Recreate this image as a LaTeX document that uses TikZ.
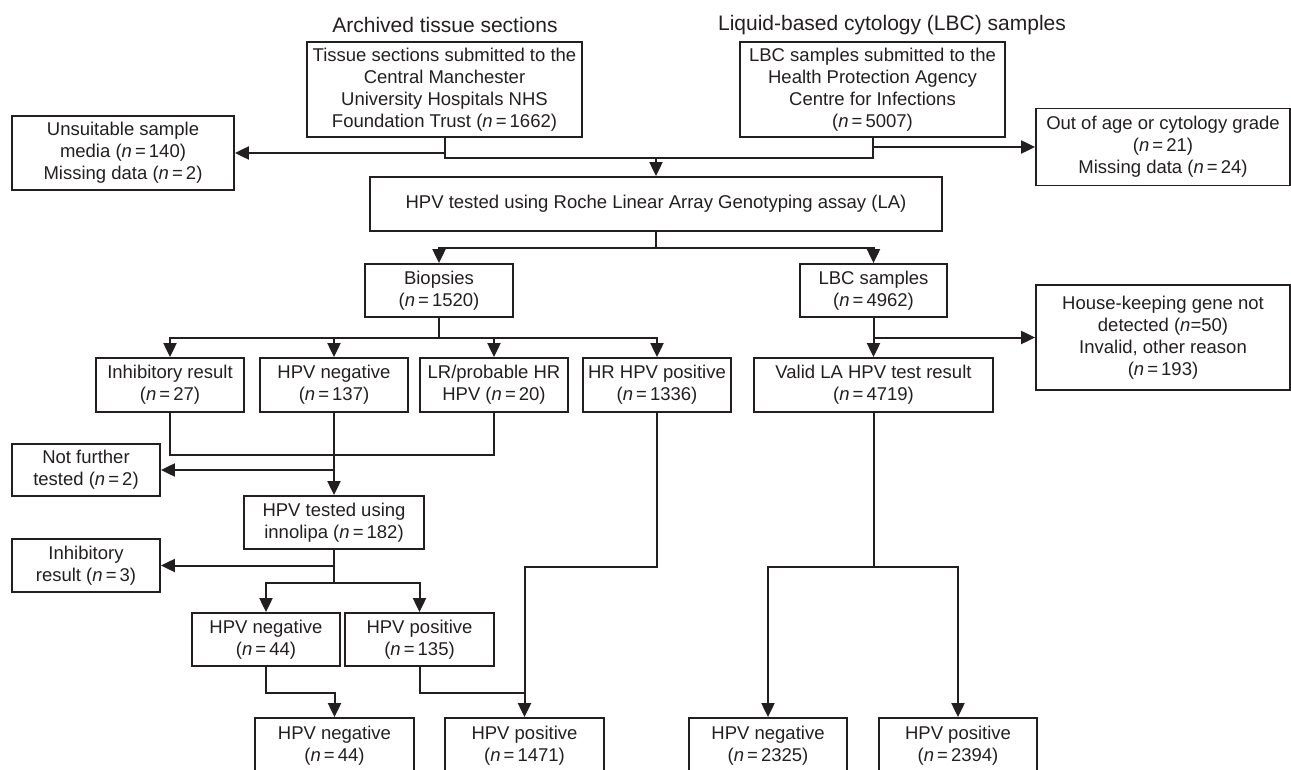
\documentclass[tikz,border=0pt]{standalone}
\usepackage{fontspec}
\setmainfont{Liberation Sans}
\usetikzlibrary{arrows.meta}
\definecolor{ink}{HTML}{231F20}
\newcommand{\nEq}{\textit{n}\,=\,}
\begin{document}
\begin{tikzpicture}[x=1pt,y=-1pt,
  box/.style={draw=ink, line width=1.8pt, inner sep=0pt, align=center, text=ink,
    font=\fontsize{18.5}{22}\selectfont},
  wh/.style n args={2}{minimum width=#1pt, minimum height=#2pt},
  ttl/.style={text=ink, inner sep=0pt, font=\fontsize{21}{25}\selectfont},
  conn/.style={draw=ink, line width=2pt},
  arr/.style={conn, -{Triangle[length=14pt,width=13pt]}},
]
\useasboundingbox (0,0) rectangle (1291,770);
\clip (0,0) rectangle (1291,770);

% titles
\node[ttl] (t1) at (445,25) {Archived tissue sections};
\node[ttl] (t2) at (892,25) {Liquid-based cytology (LBC) samples};

% top boxes
\node[box, wh={275}{95}] (tissue) at (444.5,89.5)
  {Tissue sections submitted to the\\Central Manchester\\University Hospitals NHS\\Foundation Trust (\nEq1662)};
\node[box, wh={265}{95}] (lbc) at (872.5,89.5)
  {LBC samples submitted to the\\Health Protection Agency\\Centre for Infections\\(\nEq5007)};
\node[box, wh={222}{74}] (unsuit) at (123,153)
  {Unsuitable sample\\media (\nEq140)\\Missing data (\nEq2)};
\node[box, wh={254}{77}] (outage) at (1163,147)
  {Out of age or cytology grade\\(\nEq21)\\Missing data (\nEq24)};
\node[box, wh={572}{54}] (hpvla) at (656,204)
  {HPV tested using Roche Linear Array Genotyping assay (LA)};

% second level
\node[box, wh={148}{53}] (biop) at (439,290.5) {Biopsies\\(\nEq1520)};
\node[box, wh={147}{53}] (lbcs) at (873.5,290.5) {LBC samples\\(\nEq4962)};
\node[box, wh={254}{105}] (house) at (1163,337.5)
  {House-keeping gene not\\detected (\textit{n}=50)\\Invalid, other reason\\(\nEq193)};

% third level
\node[box, wh={148}{54}] (inhib) at (170,385) {Inhibitory result\\(\nEq27)};
\node[box, wh={148}{54}] (hpvneg) at (334,385) {HPV negative\\(\nEq137)};
\node[box, wh={148}{54}] (lr) at (494,385) {LR/probable HR\\HPV (\nEq20)};
\node[box, wh={148}{54}] (hr) at (657,385) {HR HPV positive\\(\nEq1336)};
\node[box, wh={239}{54}] (valid) at (873.5,385) {Valid LA HPV test result\\(\nEq4719)};

% innolipa level
\node[box, wh={148}{52}] (notfur) at (86,470) {Not further\\tested (\nEq2)};
\node[box, wh={180}{53}] (inno) at (334,522.5) {HPV tested using\\innolipa (\nEq182)};
\node[box, wh={148}{53}] (inhib3) at (86,565.5) {Inhibitory\\result (\nEq3)};
\node[box, wh={148}{53}] (neg44) at (266,639.5) {HPV negative\\(\nEq44)};
\node[box, wh={149}{53}] (pos135) at (419.5,639.5) {HPV positive\\(\nEq135)};

% final boxes (cut at the bottom)
\node[box, wh={159}{56}] (fneg44) at (334.5,746) {HPV negative\\(\nEq44)};
\node[box, wh={159}{56}] (fpos) at (524.5,746) {HPV positive\\(\nEq1471)};
\node[box, wh={158}{56}] (fneg2) at (768,746) {HPV negative\\(\nEq2325)};
\node[box, wh={158}{56}] (fpos2) at (958,746) {HPV positive\\(\nEq2394)};

% connectors: top
\draw[conn] (tissue.south) -- ++(0,20) -| (lbc.south);
\draw[arr] (tissue.south |- unsuit.east) -- (unsuit.east);
\draw[arr] (hpvla.north |- lbc.south) ++(0,20) -- (hpvla.north);
\draw[arr] (lbc.south |- outage.west) -- (outage.west);

% HPV LA split
\draw[conn] (hpvla.south) -- ++(0,16) coordinate (s1);
\draw[arr] (s1) -| (biop.north);
\draw[arr] (s1) -| (lbcs.north);

% biopsies split
\draw[conn] (biop.south) -- ++(0,20) coordinate (s2);
\draw[arr] (s2) -| (inhib.north);
\draw[arr] (s2) -| (hpvneg.north);
\draw[arr] (s2) -| (lr.north);
\draw[arr] (s2) -| (hr.north);

% LBC samples
\draw[arr] (lbcs.south) -- (valid.north);
\draw[arr] (lbcs.south |- house.west) -- (house.west);

% into innolipa
\draw[conn] (inhib.south) -- ++(0,42) coordinate (s3) -| (lr.south);
\draw[arr] (hpvneg.south) -- (inno.north);
\draw[arr] (hpvneg.south |- notfur.east) -- (notfur.east);

% innolipa split
\draw[conn] (inno.south) -- ++(0,33) coordinate (s4);
\draw[arr] (inno.south |- inhib3.east) -- (inhib3.east);
\draw[arr] (s4) -| (neg44.north);
\draw[arr] (s4) -| (pos135.north);

% to final
\draw[arr] (neg44.south) -- ++(0,26) -| (fneg44.north);
\draw[arr] (hr.south) -- ++(0,154) -| (fpos.north);
\draw[conn] (pos135.south) -- ++(0,26) coordinate (s6) -- (s6 -| fpos.north);

% valid split
\draw[conn] (valid.south) -- ++(0,154) coordinate (s5);
\draw[arr] (s5) -| (fneg2.north);
\draw[arr] (s5) -| (fpos2.north);
\end{tikzpicture}
\end{document}
